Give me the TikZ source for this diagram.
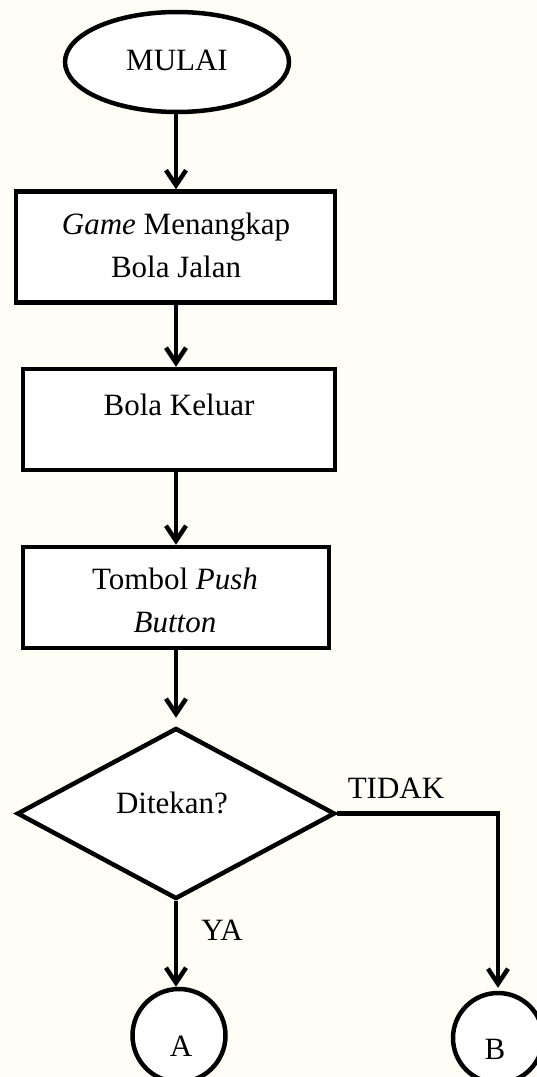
\documentclass[tikz,border=0pt]{standalone}
\usepackage{fontspec}
\setmainfont{Liberation Serif}
\usetikzlibrary{arrows.meta,shapes.geometric}
\definecolor{bgcream}{RGB}{254,254,246}
\begin{document}
\begin{tikzpicture}[x=1pt,y=-1pt,
  shapeline/.style={draw=black,line width=4.5pt,fill=white,inner sep=0pt},
  boxnode/.style={shapeline,rectangle},
  lbl/.style={font=\fontsize{31}{43}\selectfont,align=center,inner sep=0pt},
  arr/.style={line width=4.5pt,-{Straight Barb[length=15pt,width=20pt]}},
  ]
\fill[bgcream] (0,0) rectangle (537,1077);
\useasboundingbox (0,0) rectangle (537,1077);
\coordinate (col) at (176,0);
% shapes
\node[shapeline,ellipse,minimum width=224pt,minimum height=100pt] (start) at (177,62) {};
\node[boxnode,minimum width=319pt,minimum height=111pt] (b1) at (175.5,247) {};
\node[boxnode,minimum width=312pt,minimum height=101pt] (b2) at (179,419.5) {};
\node[boxnode,minimum width=306pt,minimum height=101pt] (b3) at (176,597.5) {};
\node[shapeline,diamond,minimum width=318pt,minimum height=171pt] (dec) at (176,813.5) {};
\node[shapeline,circle,minimum size=93pt] (cA) at (179,1035.5) {};
\node[shapeline,circle,minimum size=90pt] (cB) at (498,1038) {};
% texts
\node[lbl] (tstart) at (177,60) {MULAI};
\node[lbl] (t1) at (176,245) {\textit{Game} Menangkap\\Bola Jalan};
\node[lbl] (t2) at (179,404.5) {Bola Keluar};
\node[lbl] (t3) at (175,600.5) {Tombol \textit{Push}\\\textit{Button}};
\node[lbl] (tdec) at (172,803) {Ditekan?};
\node[lbl] (tno) at (396,788) {TIDAK};
\node[lbl] (tyes) at (222,930) {YA};
\node[lbl] (tA) at (181,1046.5) {A};
\node[lbl] (tB) at (495,1049) {B};
% connectors
\draw[arr] (col |- start.south) -- (col |- b1.north);
\draw[arr] (col |- b1.south) -- (col |- b2.north);
\draw[arr] (col |- b2.south) -- (col |- b3.north);
\draw[arr,shorten >=8pt] (col |- b3.south) -- (col |- dec.north);
\draw[arr] (dec.south) -- (dec.south |- cA.north);
\draw[arr,shorten >=3pt] (dec.east) -- (dec.east -| cB.north) -- (cB.north);
\end{tikzpicture}
\end{document}
